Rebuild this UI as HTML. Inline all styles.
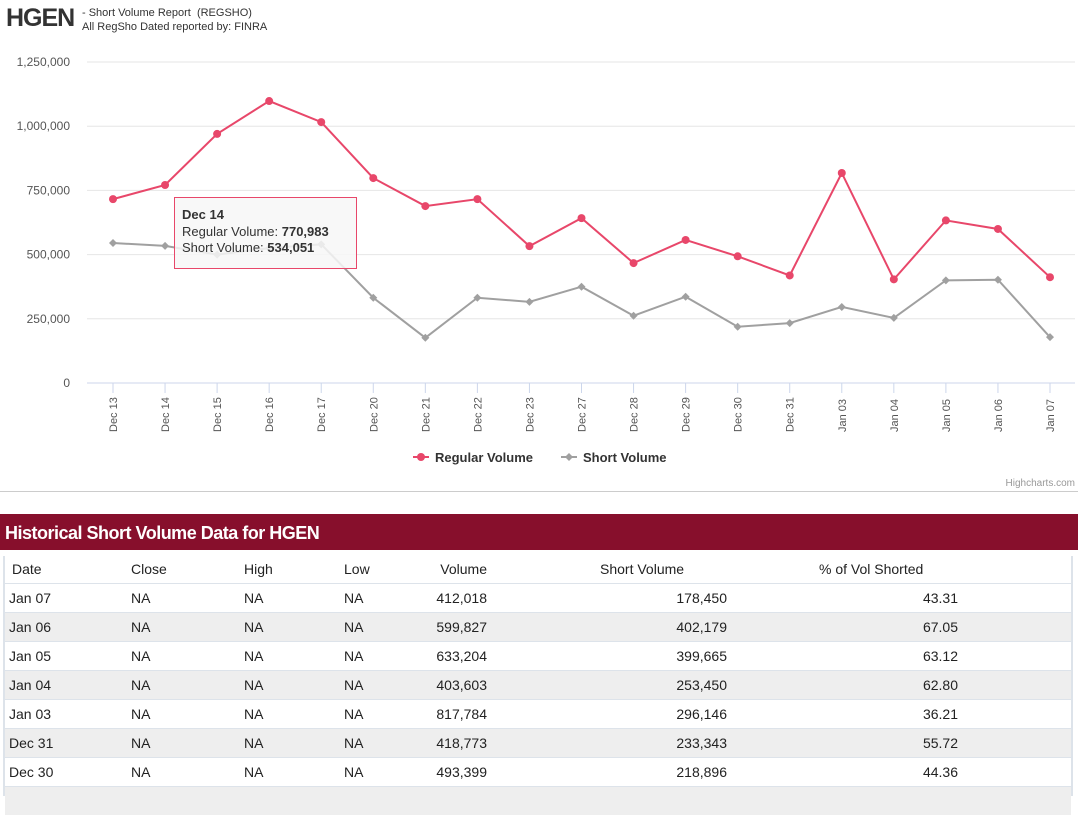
<!DOCTYPE html>
<html><head><meta charset="utf-8"><style>
body{margin:0;width:1078px;height:793px;overflow:hidden;background:#fff;font-family:"Liberation Sans",sans-serif;position:relative}
.abs{position:absolute}
table{border-collapse:collapse;font-size:14px;color:#222;table-layout:fixed}
td,th{padding:0;white-space:nowrap;box-sizing:border-box}
td{height:29px}
th{height:27px;font-weight:normal;text-align:left}
tr.alt td{background:#eeeeee}
tr td{border-top:1px solid #dde3ea}
</style></head><body>
<div class="abs" style="left:6px;top:4px;font-size:25px;font-weight:bold;color:#333;letter-spacing:-1px">HGEN</div>
<div class="abs" style="left:82px;top:6px;font-size:11px;color:#333;line-height:14px">- Short Volume Report&nbsp; (REGSHO)<br>All RegSho Dated reported by: FINRA</div>
<svg class="abs" style="left:0;top:0" width="1078" height="495" id="chart"></svg>
<div class="abs" style="left:0;top:491px;width:1078px;height:1px;background:#ccc"></div>
<div class="abs" style="left:0;top:514px;width:1078px;height:36px;background:#870f2c;color:#fff;font-size:18px;font-weight:bold;line-height:38px;padding-left:5px;box-sizing:border-box;letter-spacing:-0.5px">Historical Short Volume Data for HGEN</div>
<div class="abs" style="left:3px;top:556px;width:1066px;border-left:2px solid #dde3ea;border-right:2px solid #dde3ea;height:240px">
<table style="width:1066px">
<colgroup><col style="width:126px"><col style="width:113px"><col style="width:100px"><col style="width:80px"><col style="width:63px"><col style="width:240px"><col style="width:231px"><col></colgroup>
<tr><th style="padding-left:7px">Date</th><th>Close</th><th>High</th><th>Low</th><th style="text-align:right">Volume</th><th style="padding-left:113px">Short Volume</th><th style="padding-left:92px">% of Vol Shorted</th><th></th></tr>
<tbody id="tb"></tbody></table></div>
<script>
const categories=["Dec 13","Dec 14","Dec 15","Dec 16","Dec 17","Dec 20","Dec 21","Dec 22","Dec 23","Dec 27","Dec 28","Dec 29","Dec 30","Dec 31","Jan 03","Jan 04","Jan 05","Jan 06","Jan 07"];
const regularVolume=[716000,770983,970000,1098000,1016000,798000,689000,716000,533000,642000,467000,557000,493399,418773,817784,403603,633204,599827,412018];
const shortVolume=[545000,534051,500000,525000,540000,332000,176000,332000,316000,375000,262000,336000,218896,233343,296146,253450,399665,402179,178450];
const yTicks=[0,250000,500000,750000,1000000,1250000];
const tableRows=[["Jan 07","412,018","178,450","43.31"],["Jan 06","599,827","402,179","67.05"],["Jan 05","633,204","399,665","63.12"],["Jan 04","403,603","253,450","62.80"],["Jan 03","817,784","296,146","36.21"],["Dec 31","418,773","233,343","55.72"],["Dec 30","493,399","218,896","44.36"],["","","",""]];
const NS="http://www.w3.org/2000/svg";
const svg=document.getElementById('chart');
const x0=113,x1=1050,yb=383,yt=62;
const xs=i=>x0+(x1-x0)*i/(categories.length-1);
const ys=v=>yb-(yb-yt)*v/1250000;
function mk(t,a,p){const e=document.createElementNS(NS,t);for(const k in a)e.setAttribute(k,a[k]);(p||svg).appendChild(e);return e;}
yTicks.forEach(v=>{
 const l=mk('line',{x1:87,x2:1075,y1:ys(v),y2:ys(v),stroke:v===0?'#ccd6eb':'#e6e6e6'});
 
 
 const t=mk('text',{x:70,y:ys(v)+4,'text-anchor':'end','font-size':12,fill:'#555'});
 t.textContent=v.toLocaleString('en-US');
 
 
});
categories.forEach((c,i)=>{
 const t=mk('text',{transform:`translate(${xs(i)+4},432) rotate(-90)`,'font-size':11,fill:'#555'});
 t.textContent=c;
 
 
 mk('line',{x1:xs(i),x2:xs(i),y1:383,y2:393,stroke:'#ccd6eb'});
});
function series(vals,color,name,marker){
 const p=mk('polyline',{points:vals.map((v,i)=>xs(i)+','+ys(v)).join(' '),fill:'none',stroke:color,'stroke-width':2});
 
 
 vals.forEach((v,i)=>{
  let m;
  if(marker==='circle')m=mk('circle',{cx:xs(i),cy:ys(v),r:4,fill:color});
  else m=mk('path',{d:`M${xs(i)},${ys(v)-4}L${xs(i)+4},${ys(v)}L${xs(i)},${ys(v)+4}L${xs(i)-4},${ys(v)}Z`,fill:color});
  
  
 });
}
series(shortVolume,'#a0a0a0','short-volume','diamond');
series(regularVolume,'#e8476a','regular-volume','circle');
const g=mk('g',{});


mk('rect',{x:174.5,y:197.5,width:182,height:71,fill:'rgba(247,247,247,0.85)',stroke:'#e8476a'},g);
const t1=mk('text',{x:182,y:219,'font-size':13,fill:'#333','font-weight':'bold'},g);t1.textContent=categories[1];
const t2=mk('text',{x:182,y:236,'font-size':13,fill:'#333'},g);t2.innerHTML='Regular Volume: <tspan font-weight="bold">'+regularVolume[1].toLocaleString('en-US')+'</tspan>';
const t3=mk('text',{x:182,y:252,'font-size':13,fill:'#333'},g);t3.innerHTML='Short Volume: <tspan font-weight="bold">'+shortVolume[1].toLocaleString('en-US')+'</tspan>';
function leg(x,color,label,marker,name){
 const lg=mk('g',{});
 
 
 mk('line',{x1:x,x2:x+16,y1:457,y2:457,stroke:color,'stroke-width':2},lg);
 if(marker==='circle')mk('circle',{cx:x+8,cy:457,r:4,fill:color},lg);
 else mk('path',{d:`M${x+8},453L${x+12},457L${x+8},461L${x+4},457Z`,fill:color},lg);
 const t=mk('text',{x:x+22,y:462,'font-size':13,'font-weight':'bold',fill:'#333'},lg);t.textContent=label;
}
leg(413,'#e8476a','Regular Volume','circle','legend-regular-volume');
leg(561,'#a0a0a0','Short Volume','diamond','legend-short-volume');
const cr=mk('text',{x:1075,y:486,'text-anchor':'end','font-size':10,fill:'#999'});cr.textContent='Highcharts.com';


const tb=document.getElementById('tb');
tableRows.forEach((r,i)=>{
 const tr=document.createElement('tr');
 
 
 if(i%2)tr.className='alt';
 const na=r[0]?'NA':'';
 tr.innerHTML=`<td style="padding-left:4px">${r[0]}</td><td>${na}</td><td>${na}</td><td>${na}</td><td style="text-align:right">${r[1]}</td><td style="text-align:right">${r[2]}</td><td style="text-align:right">${r[3]}</td><td></td>`;
 tb.appendChild(tr);
});
</script>
</body></html>
